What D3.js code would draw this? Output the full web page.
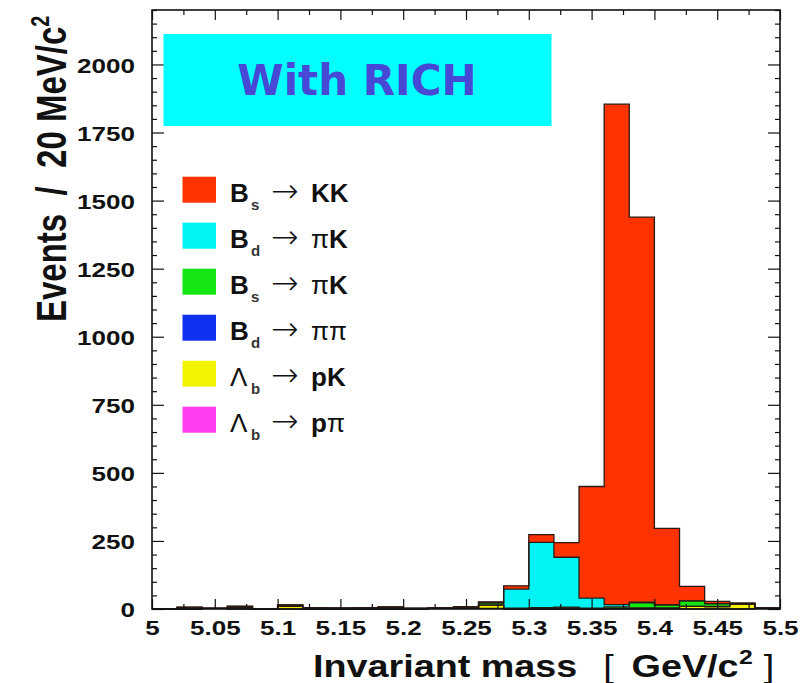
<!DOCTYPE html>
<meta charset="utf-8">
<style>
body { margin: 0; background: #fff; }
svg { display: block; font-family: "Liberation Sans", Arial, Helvetica, sans-serif; }
</style>
<svg width="804" height="683"></svg>
<script src="https://d3js.org/d3.v7.min.js"></script>
<script>
// lower edge of each 20 MeV bin
var bins = [5.00, 5.02, 5.04, 5.06, 5.08, 5.10, 5.12, 5.14, 5.16, 5.18, 5.20, 5.22, 5.24,
            5.26, 5.28, 5.30, 5.32, 5.34, 5.36, 5.38, 5.40, 5.42, 5.44, 5.46, 5.48];
var massMax = 5.50;

// events per bin, one array per decay
var bsKK   = [0, 0, 0, 0, 0, 0, 0, 0, 0, 0, 0, 0, 0, 2, 12, 28, 54, 410, 1838, 1414, 281, 53, 8, 2, 0];
var bdPiK  = [0, 0, 0, 0, 0, 0, 0, 0, 0, 0, 0, 0, 0, 2, 70, 240, 183, 37, 8, 2, 0, 0, 0, 0, 0];
var bsPiK  = [0, 0, 0, 5, 0, 0, 0, 0, 0, 0, 0, 0, 3, 8, 2, 2, 3, 3, 6, 20, 12, 20, 10, 2, 0];
var bdPiPi = [0, 6, 0, 0, 0, 4, 4, 3, 4, 7, 2, 0, 2, 0, 0, 3, 4, 0, 0, 0, 0, 0, 2, 0, 0];
var lbPK   = [0, 0, 0, 5, 0, 10, 0, 0, 0, 0, 0, 2, 0, 12, 1, 0, 0, 0, 2, 3, 3, 10, 8, 18, 0];
var lbPpi  = [0, 0, 2, 0, 0, 0, 0, 0, 0, 0, 0, 3, 3, 2, 0, 0, 0, 0, 0, 0, 0, 0, 0, 0, 3];

// legend, top to bottom
var legendKeys    = ["bsKK", "bdPiK", "bsPiK", "bdPiPi", "lbPK", "lbPpi"];
var legendParent  = ["B", "B", "B", "B", "\u039B", "\u039B"];
var legendSub     = ["s", "d", "s", "d", "b", "b"];
var legendProduct = ["KK", "\u03C0K", "\u03C0K", "\u03C0\u03C0", "pK", "p\u03C0"];
var colors = {bsKK: "#ff3300", bdPiK: "#00f4f4", bsPiK: "#14e614", bdPiPi: "#1030f0",
              lbPK: "#f4f400", lbPpi: "#ff3cf0"};

// stacking order, bottom first
var stackKeys = ["lbPpi", "lbPK", "bdPiPi", "bsPiK", "bdPiK", "bsKK"];

var xMajor = [5, 5.05, 5.1, 5.15, 5.2, 5.25, 5.3, 5.35, 5.4, 5.45, 5.5];
var yMajor = [0, 250, 500, 750, 1000, 1250, 1500, 1750, 2000];

var svg = d3.select("svg");
var x = d3.scaleLinear().domain([5, 5.5]).range([152, 780]);
var y = d3.scaleLinear().domain([0, 2200]).range([609, 10]);

var src = {bsKK: bsKK, bdPiK: bdPiK, bsPiK: bsPiK, bdPiPi: bdPiPi, lbPK: lbPK, lbPpi: lbPpi};
var rows = bins.map(function(b, i) {
  var r = {edge: b};
  stackKeys.forEach(function(k) { r[k] = src[k][i]; });
  return r;
});
// closing point so the last step reaches 5.5
var last = Object.assign({}, rows[rows.length - 1]);
last.edge = massMax;
rows.push(last);

var layers = d3.stack().keys(stackKeys)(rows);

var area = d3.area()
    .curve(d3.curveStepAfter)
    .x(function(d) { return x(d.data.edge); })
    .y0(function(d) { return y(d[0]); })
    .y1(function(d) { return y(d[1]); });
var outline = d3.line()
    .curve(d3.curveStepAfter)
    .x(function(d) { return x(d.data.edge); })
    .y(function(d) { return y(d[1]); });

var hist = svg.append("g");
hist.selectAll("path.fill")
    .data(layers)
  .enter().append("path")
    .attr("class", "fill")
    .attr("d", area)
    .attr("fill", function(d) { return colors[d.key]; });
hist.selectAll("path.edge")
    .data(layers)
  .enter().append("path")
    .attr("class", "edge")
    .attr("d", outline)
    .attr("fill", "none")
    .attr("stroke", "#2a1a14")
    .attr("stroke-width", 1.3);

// ticks on all four sides, pointing inward
var xMinor = d3.range(5.025, 5.5, 0.05);
var yMinor = d3.range(0, 2201, 50).filter(function(v) { return v % 250; });
function tickSet(g) { g.select(".domain").remove(); g.selectAll("line").attr("stroke", "#111").attr("stroke-width", 1.2); }

var fmtX = function(d) { return String(+d.toFixed(2)); };

svg.append("g").attr("transform", "translate(0,609)")
    .call(d3.axisBottom(x).tickValues(xMinor).tickSize(-5).tickFormat(""))
    .call(tickSet);
var xb = svg.append("g").attr("transform", "translate(0,609)")
    .call(d3.axisBottom(x).tickValues(xMajor).tickSize(-10).tickFormat(fmtX))
    .call(tickSet);
xb.selectAll("text")
    .attr("y", 26).attr("dy", 0)
    .attr("transform", "scale(1.24,1)")
    .style("font-size", "21px").style("font-weight", "bold").attr("fill", "#111");

svg.append("g").attr("transform", "translate(0,10)")
    .call(d3.axisTop(x).tickValues(xMinor).tickSize(-5).tickFormat(""))
    .call(tickSet);
svg.append("g").attr("transform", "translate(0,10)")
    .call(d3.axisTop(x).tickValues(xMajor).tickSize(-10).tickFormat(""))
    .call(tickSet);

svg.append("g").attr("transform", "translate(152,0)")
    .call(d3.axisLeft(y).tickValues(yMinor).tickSize(-5).tickFormat(""))
    .call(tickSet);
var yl = svg.append("g").attr("transform", "translate(152,0)")
    .call(d3.axisLeft(y).tickValues(yMajor).tickSize(-12).tickFormat(d3.format("d")))
    .call(tickSet);
yl.selectAll("text")
    .attr("x", -17 / 1.24).attr("dy", "0.36em")
    .attr("transform", "scale(1.24,1)")
    .style("font-size", "21px").style("font-weight", "bold").attr("fill", "#111");

svg.append("g").attr("transform", "translate(780,0)")
    .call(d3.axisRight(y).tickValues(yMinor).tickSize(-5).tickFormat(""))
    .call(tickSet);
svg.append("g").attr("transform", "translate(780,0)")
    .call(d3.axisRight(y).tickValues(yMajor).tickSize(-12).tickFormat(""))
    .call(tickSet);

svg.append("rect")
    .attr("x", 152).attr("y", 10)
    .attr("width", 628).attr("height", 599)
    .attr("fill", "none").attr("stroke", "#111").attr("stroke-width", 1.6);

// "With RICH" banner
svg.append("rect")
    .attr("x", 163.5).attr("y", 34).attr("width", 388).attr("height", 92)
    .attr("fill", "#00ffff");
svg.append("text")
    .attr("x", 357).attr("y", 95)
    .attr("text-anchor", "middle")
    .style("font-family", "'DejaVu Sans', Verdana, sans-serif")
    .style("font-weight", "bold").style("font-size", "42px")
    .attr("fill", "#4848d6")
    .text("With RICH");

// legend
var leg = svg.append("g").selectAll("g")
    .data(legendKeys)
  .enter().append("g")
    .attr("transform", function(d, i) { return "translate(0," + (201.7 + i * 46) + ")"; });
leg.append("rect")
    .attr("x", 182.5).attr("y", -25).attr("width", 33.5).attr("height", 26)
    .attr("fill", function(d) { return colors[d]; });
var lt = leg.append("text").attr("fill", "#111").style("font-size", "26px");
lt.append("tspan")
    .attr("x", 230)
    .style("font-weight", function(d, i) { return legendParent[i] === "B" ? "bold" : "normal"; })
    .text(function(d, i) { return legendParent[i]; });
lt.append("tspan")
    .attr("x", 251).attr("dy", 8.5)
    .style("font-size", "15px").style("font-weight", "bold").attr("fill", "#333")
    .text(function(d, i) { return legendSub[i]; });
lt.append("tspan")
    .attr("x", 271).attr("dy", -8.5)
    .style("font-family", "'DejaVu Sans', sans-serif").style("font-size", "33px")
    .style("font-weight", "200")
    .text("\u2192");
lt.each(function(d, i) {
  var t = d3.select(this), px = 311;
  legendProduct[i].split("").forEach(function(c, j) {
    t.append("tspan")
        .attr("x", j === 0 ? px : null)
        .style("font-weight", c === "\u03C0" ? "normal" : "bold")
        .text(c);
  });
});

// axis titles
var xt = svg.append("text")
    .attr("transform", "translate(313,677) scale(1.18,1)")
    .attr("fill", "#111").style("font-size", "32px").style("font-weight", "bold");
xt.append("tspan").attr("x", 0).text("Invariant mass");
xt.append("tspan").attr("x", 246).style("font-weight", "normal").text("[");
xt.append("tspan").attr("x", 270).text("GeV/c");
xt.append("tspan").attr("x", 361).attr("dy", -13).style("font-size", "21px").text("2");
xt.append("tspan").attr("x", 382).attr("dy", 13).style("font-weight", "normal").text("]");

var yt = svg.append("text")
    .attr("transform", "translate(66,322) rotate(-90) scale(1,1.3)")
    .attr("fill", "#111").style("font-size", "33px").style("font-weight", "bold")
    .style("white-space", "pre");
yt.append("tspan").attr("x", 0).text("Events  /  20 MeV/c");
yt.append("tspan").attr("dy", -13).style("font-size", "20px").text("2");
</script>
